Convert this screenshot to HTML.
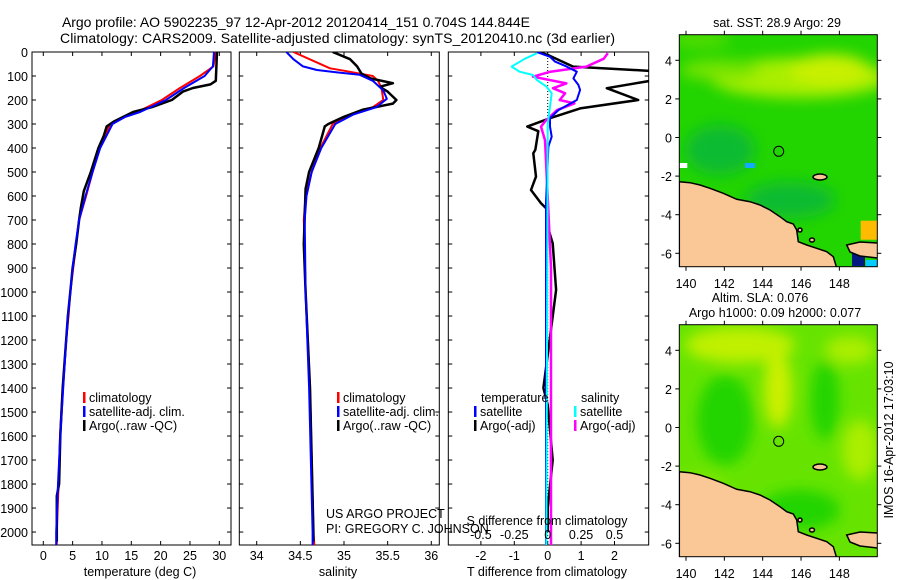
<!DOCTYPE html>
<html><head><meta charset="utf-8"><style>
html,body{margin:0;padding:0;background:#fff;}
svg{display:block;font-family:"Liberation Sans",sans-serif;}
</style></head><body>
<svg id="fig" width="900" height="580" viewBox="0 0 900 580" xmlns="http://www.w3.org/2000/svg">
<defs>
<filter id="bl" x="-50%" y="-50%" width="200%" height="200%"><feGaussianBlur stdDeviation="7"/></filter>
<filter id="bl2" x="-50%" y="-50%" width="200%" height="200%"><feGaussianBlur stdDeviation="3"/></filter>
<clipPath id="c1"><rect x="32" y="52" width="199" height="493"/></clipPath>
<clipPath id="c2"><rect x="239.3" y="52" width="200" height="493"/></clipPath>
<clipPath id="c3"><rect x="448.3" y="52" width="200.4" height="493"/></clipPath>
<clipPath id="m1"><rect x="679.3" y="34.7" width="198" height="232"/></clipPath>
<clipPath id="m2"><rect x="679.3" y="324.7" width="198" height="232"/></clipPath>
</defs>
<text x="62" y="27" font-size="14" textLength="468">Argo profile: AO 5902235_97 12-Apr-2012 20120414_151 0.704S 144.844E</text>
<text x="60" y="43" font-size="14" textLength="555">Climatology: CARS2009. Satellite-adjusted climatology: synTS_20120410.nc (3d earlier)</text>

<!-- maps -->
<g clip-path="url(#m1)">
<rect x="679.3" y="34.7" width="198" height="232" fill="#22d400"/>
<g filter="url(#bl)">
<ellipse cx="800" cy="78" rx="90" ry="20" fill="#a8ee00"/>
<ellipse cx="830" cy="70" rx="40" ry="16" fill="#c8f000"/>
<ellipse cx="720" cy="70" rx="40" ry="10" fill="#77e400"/>
<ellipse cx="720" cy="150" rx="35" ry="25" fill="#11bb33"/>
<ellipse cx="790" cy="200" rx="45" ry="18" fill="#11bb33"/>
<ellipse cx="700" cy="40" rx="30" ry="8" fill="#55dd00"/>
</g>
<rect x="860.7" y="220.7" width="16.3" height="19" fill="#ffbb00"/>
<rect x="852" y="253" width="13" height="13" fill="#001a80"/>
<rect x="866" y="260" width="11" height="7" fill="#00ccff"/>
<rect x="745" y="163" width="10" height="5" fill="#11aaff"/>
<rect x="679.3" y="163" width="8" height="5" fill="#fff"/>
<g fill="#fac896" stroke="#000" stroke-width="1.5">
<polygon points="679.3,181.7 690,182.7 700,185 710,188.3 723.3,193.3 736.7,199.3 750,201.7 760,205 770,210 780,216.7 786.7,221.7 793.3,224 796.7,230 798.3,241.7 806.7,245 816.7,248.3 826.7,251.7 833.3,256.7 836.7,268 679.3,268"/>
<polygon points="846.7,245 860,242 878,243 878,258 860,256 850,252"/>
<ellipse cx="820" cy="177" rx="7" ry="3"/>
<ellipse cx="800" cy="230" rx="2" ry="2"/>
<ellipse cx="812" cy="240" rx="2.5" ry="2"/>
</g>
<circle cx="778.7" cy="151.3" r="5" fill="none" stroke="#000" stroke-width="1"/>
</g>
<g clip-path="url(#m2)">
<rect x="679.3" y="324.7" width="198" height="232" fill="#66e400"/>
<g filter="url(#bl)">
<ellipse cx="740" cy="345" rx="55" ry="18" fill="#c0f000"/>
<ellipse cx="778" cy="390" rx="14" ry="38" fill="#ccf000"/>
<ellipse cx="725" cy="420" rx="28" ry="45" fill="#22d400"/>
<ellipse cx="825" cy="400" rx="14" ry="40" fill="#22d400"/>
<ellipse cx="850" cy="350" rx="25" ry="14" fill="#aaee00"/>
<ellipse cx="860" cy="450" rx="18" ry="30" fill="#aaee00"/>
<ellipse cx="800" cy="510" rx="40" ry="20" fill="#22d400"/>
<ellipse cx="700" cy="490" rx="25" ry="15" fill="#88e800"/>
</g>
<g transform="translate(0,290)" fill="#fac896" stroke="#000" stroke-width="1.5">
<polygon points="679.3,181.7 690,182.7 700,185 710,188.3 723.3,193.3 736.7,199.3 750,201.7 760,205 770,210 780,216.7 786.7,221.7 793.3,224 796.7,230 798.3,241.7 806.7,245 816.7,248.3 826.7,251.7 833.3,256.7 836.7,268 679.3,268"/>
<polygon points="846.7,245 860,242 878,243 878,258 860,256 850,252"/>
<ellipse cx="820" cy="177" rx="7" ry="3"/>
<ellipse cx="800" cy="230" rx="2" ry="2"/>
<ellipse cx="812" cy="240" rx="2.5" ry="2"/>
</g>
<circle cx="778.7" cy="441.3" r="5" fill="none" stroke="#000" stroke-width="1"/>
</g>
<rect x="679.3" y="34.7" width="198" height="232" fill="none" stroke="#000" stroke-width="1"/>
<rect x="679.3" y="324.7" width="198" height="232" fill="none" stroke="#000" stroke-width="1"/>
<text x="777" y="27" font-size="12.5" text-anchor="middle">sat. SST: 28.9 Argo: 29</text>
<text x="760" y="302" font-size="12.5" text-anchor="middle">Altim. SLA: 0.076</text>
<text x="775" y="317" font-size="12.5" text-anchor="middle">Argo h1000: 0.09 h2000: 0.077</text>
<text x="0" y="0" font-size="12.5" text-anchor="middle" transform="translate(893,440) rotate(-90)">IMOS 16-Apr-2012 17:03:10</text>

<g id="plots"></g>
</svg>
<script>
// ---- data ----
const depthTicks = [0,100,200,300,400,500,600,700,800,900,1000,1100,1200,1300,1400,1500,1600,1700,1800,1900,2000];
const tempTicks = [0,5,10,15,20,25,30];
const salTicks = [34,34.5,35,35.5,36];
const salTickLabels = ["34","34.5","35","35.5","36"];
const dTTicks = [-2,-1,0,1,2];
const dSTicks = [-0.5,-0.25,0,0.25,0.5];
const dSTickLabels = ["-0.5","-0.25","0","0.25","0.5"];
const lonTicks = [140,142,144,146,148];
const latTicks = [4,2,0,-2,-4,-6];

const tClimDepth = [0,60,100,150,200,250,270,300,400,500,600,700,800,900,1000,1100,1200,1400,1600,1800,2000,2054];
const tClim = [29.4,29.0,26.7,23.3,20.2,16.0,14.0,11.4,9.6,8.4,7.3,6.1,5.6,5.1,4.6,4.3,3.9,3.3,2.85,2.6,2.3,2.3];
const tSatDepth = [0,60,100,150,200,250,270,300,400,500,600,700,800,900,1000,1100,1200,1400,1600,1800,2000,2054];
const tSat = [29.1,28.9,27.5,24.0,20.9,16.5,14.0,11.8,9.7,8.4,7.2,6.1,5.5,5.0,4.6,4.2,3.9,3.4,2.9,2.5,2.2,2.2];
const tArgoDepth = [0,120,135,150,165,200,230,250,290,310,350,400,500,580,650,700,800,900,1000,1100,1400,1600,1800,1850,2000,2040];
const tArgo = [29.6,29.4,28.5,25.5,23.8,21.9,18.5,15.3,12.0,10.8,10.3,9.4,8.1,6.9,6.4,6.1,5.6,5.0,4.6,4.2,3.3,2.9,2.7,2.3,2.3,2.3];

const sClimDepth = [0,68,80,100,120,150,200,230,260,300,400,500,600,700,1000,1400,2000,2054];
const sClim = [34.42,34.84,35.03,35.33,35.39,35.43,35.45,35.33,35.07,34.87,34.73,34.63,34.56,34.54,34.56,34.61,34.65,34.66];
const sSatDepth = [0,30,60,75,85,95,120,160,195,230,260,300,400,500,600,700,1000,1400,2000,2054];
const sSat = [34.34,34.42,34.53,34.69,34.92,35.18,35.33,35.45,35.49,35.37,35.11,34.9,34.74,34.63,34.57,34.55,34.56,34.6,34.64,34.64];
const sArgoDepth = [0,30,60,90,110,130,145,165,200,215,240,270,300,310,400,500,570,800,1000,1400,2000,2040];
const sArgo = [34.87,35.07,35.15,35.2,35.3,35.56,35.41,35.5,35.6,35.56,35.22,35.0,34.82,34.78,34.71,34.6,34.56,34.54,34.56,34.61,34.65,34.65];

const dtArgoDepth = [0,12,61,82,110,151,200,235,276,311,330,408,422,519,575,630,658,728,797,991,1102,1400,1470,1700,1900,2000];
const dtArgo = [-0.28,0,0.76,3.5,3.5,1.77,2.71,0.97,0.07,-0.61,-0.28,-0.37,-0.43,-0.35,-0.5,-0.2,0,0,0.15,0.25,0.15,-0.13,0,0.15,0,0];
const dtSatDepth = [0,20,40,61,82,110,137,158,200,242,276,311,353,394,630,2054];
const dtSat = [-0.32,0.07,0.22,0.57,0.87,0.77,0.92,0.97,0.87,0.32,0.07,0.07,0.12,0.02,-0.05,-0.05];
const dsArgoDepth = [5,28,61,82,103,131,151,172,200,214,242,283,311,367,600,900,2054];
const dsArgo = [0.45,0.42,0.29,0.02,-0.11,0.14,0.04,0.13,0.09,0.2,0.07,-0.01,-0.05,-0.02,0.0,0.025,0.025];
const dsSatDepth = [5,28,61,82,96,117,144,172,214,300,2054];
const dsSat = [-0.08,-0.17,-0.27,-0.21,-0.11,-0.08,-0.01,0.03,0.02,0,-0.01];

// ---- scales ----
const NS = "http://www.w3.org/2000/svg";
const Y0 = 52, Y1 = 545, DMAX = 2054;
const yD = d => Y0 + d / DMAX * (Y1 - Y0);
const xT = t => 43.3 + t * 5.867;
const xS = s => 256.7 + (s - 34) * 87.3;
const xDT = t => 547.7 + t * 33.4;
const xDS = s => 547.7 + s * 4 * 33.4;
const xLon = l => 686 + (l - 140) * 19.17;
const yLat1 = l => 60.3 + (4 - l) * 19.3;
const yLat2 = l => 350.3 + (4 - l) * 19.3;
const root = document.getElementById('plots');

function mk(tag, attrs, parent) {
  const e = document.createElementNS(NS, tag);
  for (const k in attrs) e.setAttribute(k, attrs[k]);
  (parent || root).appendChild(e);
  return e;
}
function txt(x, y, s, anchor, size, name) {
  const e = mk('text', {x: x, y: y, 'font-size': size || 12.5, 'text-anchor': anchor || 'middle'});
  e.textContent = s;
  
  
  return e;
}
function series(depths, vals, xf, color, w, clip, name) {
  const pts = depths.map((d, i) => xf(vals[i]).toFixed(1) + ',' + yD(d).toFixed(1)).join(' ');
  const e = mk('polyline', {points: pts, fill: 'none', stroke: color, 'stroke-width': w, 'stroke-linejoin': 'round', 'clip-path': 'url(#' + clip + ')'});
  
  
}
function frame(x0, x1, name) {
  const e = mk('rect', {x: x0, y: Y0, width: x1 - x0, height: Y1 - Y0, fill: 'none', stroke: '#000', 'stroke-width': 1});
  
  
  depthTicks.forEach(d => {
    mk('line', {x1: x0, x2: x0 + 4, y1: yD(d), y2: yD(d), stroke: '#000'});
    mk('line', {x1: x1 - 4, x2: x1, y1: yD(d), y2: yD(d), stroke: '#000'});
  });
}
function xticks(vals, labels, xf, ylab, name) {
  vals.forEach((v, i) => {
    mk('line', {x1: xf(v), x2: xf(v), y1: Y1, y2: Y1 - 4, stroke: '#000'});
    mk('line', {x1: xf(v), x2: xf(v), y1: Y0, y2: Y0 + 4, stroke: '#000'});
    txt(xf(v), ylab, labels[i], 'middle', 12.5, name);
  });
}
function legend(x, y, color, label, name) {
  const m = mk('rect', {x: x, y: y - 10, width: 2.5, height: 11, fill: color});
  
  
  txt(x + 6, y, label, 'start', 12.5, name);
}

// panel frames
frame(32, 231, 'temperature-panel');
frame(239.3, 439.3, 'salinity-panel');
frame(448.3, 648.7, 'difference-panel');
depthTicks.forEach(d => txt(28, yD(d) + 5, String(d), 'end', 12.5, 'depth-tick-label'));

// temperature
xticks(tempTicks, tempTicks.map(String), xT, 560, 'temperature-tick-label');
txt(140, 576, 'temperature (deg C)', 'middle', 12.5, 'temperature-axis-title');
series(tClimDepth, tClim, xT, '#ff0000', 2, 'c1', 'temperature-climatology-line');
series(tArgoDepth, tArgo, xT, '#000', 2.5, 'c1', 'temperature-argo-line');
series(tSatDepth, tSat, xT, '#0000ff', 2, 'c1', 'temperature-satellite-line');
legend(83, 402, '#ff0000', 'climatology', 'legend-climatology');
legend(83, 416, '#0000ff', 'satellite-adj. clim.', 'legend-satellite-adj');
legend(83, 430, '#000', 'Argo(..raw -QC)', 'legend-argo');

// salinity
xticks(salTicks, salTickLabels, xS, 560, 'salinity-tick-label');
txt(338, 576, 'salinity', 'middle', 12.5, 'salinity-axis-title');
series(sClimDepth, sClim, xS, '#ff0000', 2, 'c2', 'salinity-climatology-line');
series(sArgoDepth, sArgo, xS, '#000', 2.5, 'c2', 'salinity-argo-line');
series(sSatDepth, sSat, xS, '#0000ff', 2, 'c2', 'salinity-satellite-line');
legend(337, 402, '#ff0000', 'climatology', 'legend-climatology');
legend(337, 416, '#0000ff', 'satellite-adj. clim.', 'legend-satellite-adj');
legend(337, 430, '#000', 'Argo(..raw -QC)', 'legend-argo');
txt(326, 518, 'US ARGO PROJECT', 'start', 12.5, 'project-credit');
txt(326, 533, 'PI: GREGORY C. JOHNSON', 'start', 12.5, 'pi-credit');

// differences
mk('line', {x1: xDT(0), x2: xDT(0), y1: Y0, y2: Y1, stroke: '#000', 'stroke-dasharray': '1,2', 'stroke-width': 1});
dTTicks.forEach(v => {
  mk('line', {x1: xDT(v), x2: xDT(v), y1: Y1, y2: Y1 - 4, stroke: '#000'});
  mk('line', {x1: xDT(v), x2: xDT(v), y1: Y0, y2: Y0 + 4, stroke: '#000'});
  txt(xDT(v), 560, String(v), 'middle', 12.5, 'dt-tick-label');
});
txt(547, 576, 'T difference from climatology', 'middle', 12.5, 'dt-axis-title');
series(dtArgoDepth, dtArgo, xDT, '#000', 2.5, 'c3', 'dt-argo-line');
series(dsArgoDepth, dsArgo, xDS, '#ff00ff', 2.5, 'c3', 'ds-argo-line');
series(dtSatDepth, dtSat, xDT, '#0000ff', 2, 'c3', 'dt-satellite-line');
series(dsSatDepth, dsSat, xDS, '#00ffff', 2, 'c3', 'ds-satellite-line');
txt(547, 525, 'S difference from climatology', 'middle', 12.5, 'ds-axis-title');
dSTicks.forEach((v, i) => txt(xDS(v), 539, dSTickLabels[i], 'middle', 12.5, 'ds-tick-label'));
txt(481, 402, 'temperature', 'start', 12.5, 'legend-temperature-header');
legend(474, 416, '#0000ff', 'satellite', 'legend-t-satellite');
legend(474, 430, '#000', 'Argo(-adj)', 'legend-t-argo');
txt(581, 402, 'salinity', 'start', 12.5, 'legend-salinity-header');
legend(574, 416, '#00ffff', 'satellite', 'legend-s-satellite');
legend(574, 430, '#ff00ff', 'Argo(-adj)', 'legend-s-argo');

// map axes
[[yLat1, 34.7, 266.7, 288], [yLat2, 324.7, 556.7, 578]].forEach(([yl, top, bot, ylab]) => {
  lonTicks.forEach(l => {
    mk('line', {x1: xLon(l), x2: xLon(l), y1: top, y2: top - 4, stroke: '#000'});
    mk('line', {x1: xLon(l), x2: xLon(l), y1: bot, y2: bot + 4, stroke: '#000'});
    txt(xLon(l), ylab, String(l), 'middle', 12.5, 'map-lon-tick-label');
  });
  latTicks.forEach(l => {
    mk('line', {x1: 679.3, x2: 675.3, y1: yl(l), y2: yl(l), stroke: '#000'});
    mk('line', {x1: 877.3, x2: 881.3, y1: yl(l), y2: yl(l), stroke: '#000'});
    txt(672, yl(l) + 5, String(l), 'end', 12.5, 'map-lat-tick-label');
  });
});
</script>
</body></html>
